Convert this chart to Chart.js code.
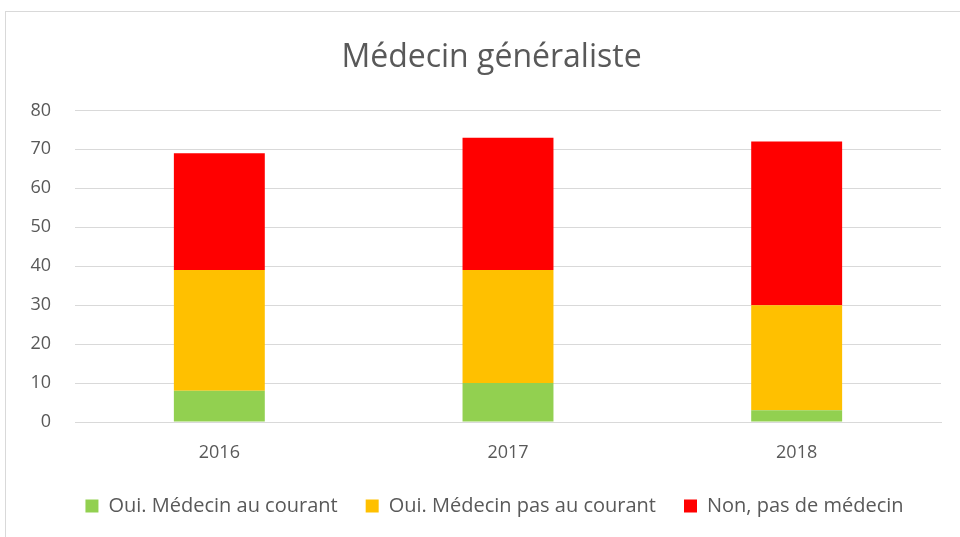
<!DOCTYPE html>
<html>
<head>
<meta charset="utf-8">
<script src="https://cdn.jsdelivr.net/npm/chart.js@4/dist/chart.umd.min.js"></script>
<style>
html,body{margin:0;padding:0;background:#fff;width:960px;height:537px;overflow:hidden;}
#frame{position:absolute;left:5px;top:11px;width:980px;height:560px;border:1px solid #d9d9d9;box-sizing:border-box;}
#wrap{position:absolute;left:0;top:0;width:960px;height:537px;}
</style>
</head>
<body>
<div id="frame"></div>
<div id="wrap"><canvas id="c" width="960" height="537"></canvas></div>
<script>
const categories = ["2016", "2017", "2018"];
const seriesNames = ["Oui. Médecin au courant", "Oui. Médecin pas au courant", "Non, pas de médecin"];
const ouiAuCourant = [8, 10, 3];
const ouiPasAuCourant = [31, 29, 27];
const nonPasDeMedecin = [30, 34, 42];
const colors = ["#92d050", "#ffc000", "#ff0000"];
const titleText = "Médecin généraliste";

const FONT = "'Open Sans', 'Liberation Sans', sans-serif";
const GREY = "#595959";

// Shift title/legend boxes horizontally so they are centred like the original
const centerShift = {
  id: "centerShift",
  afterLayout(chart) {
    if (chart.legend) { chart.legend.left += 14; chart.legend.right += 14; }
    if (chart.titleBlock) { chart.titleBlock.left += 11; chart.titleBlock.right += 11; }
  }
};

new Chart(document.getElementById("c"), {
  type: "bar",
  data: {
    labels: categories,
    datasets: [
      { label: seriesNames[0], data: ouiAuCourant, backgroundColor: colors[0] },
      { label: seriesNames[1], data: ouiPasAuCourant, backgroundColor: colors[1] },
      { label: seriesNames[2], data: nonPasDeMedecin, backgroundColor: colors[2] }
    ]
  },
  plugins: [centerShift],
  options: {
    responsive: false,
    animation: false,
    devicePixelRatio: 1,
    layout: { padding: { left: 20, right: 19, top: 39, bottom: 11 } },
    datasets: { bar: { barPercentage: 1, categoryPercentage: 0.315 } },
    plugins: {
      title: {
        display: true, text: titleText, color: GREY,
        font: { family: FONT, size: 32, weight: "normal", lineHeight: 1.2 },
        padding: { top: 0, bottom: 33 }
      },
      legend: {
        position: "bottom",
        labels: {
          color: GREY, boxWidth: 13, boxHeight: 13, padding: 28,
          font: { family: FONT, size: 20 }
        }
      },
      tooltip: { enabled: false }
    },
    scales: {
      x: {
        stacked: true,
        grid: { display: false, drawTicks: false },
        border: { display: true, color: "#d9d9d9" },
        ticks: { color: GREY, font: { family: FONT, size: 18 }, padding: 20 },
        afterFit(s) { s.height = 46; }
      },
      y: {
        stacked: true, min: 0, max: 80,
        grid: { color: "#d9d9d9", drawTicks: false },
        border: { display: false },
        ticks: { stepSize: 10, color: GREY, font: { family: FONT, size: 18 }, padding: 24 },
        afterFit(s) { s.width = 55; }
      }
    }
  }
});
</script>
</body>
</html>
